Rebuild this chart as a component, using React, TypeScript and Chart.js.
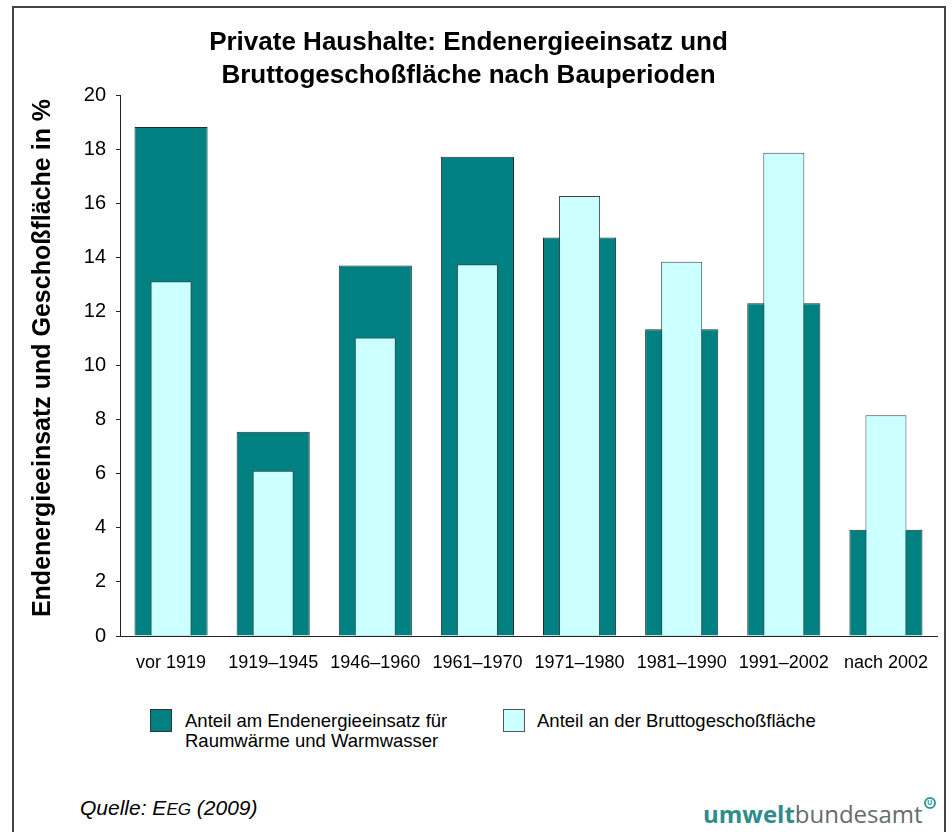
import React, { useEffect, useRef } from "react";
import { Chart, registerables } from "chart.js";

Chart.register(...registerables);

const categories = ["vor 1919", "1919–1945", "1946–1960", "1961–1970", "1971–1980", "1981–1990", "1991–2002", "nach 2002"];
const energyShare = [18.82, 7.55, 13.7, 17.72, 14.73, 11.34, 12.3, 3.93];
const floorShare = [13.12, 6.11, 11.04, 13.74, 16.27, 13.84, 17.87, 8.16];
const yTicks = [0, 2, 4, 6, 8, 10, 12, 14, 16, 18, 20];

const titleLines = ["Private Haushalte: Endenergieeinsatz und", "Bruttogeschoßfläche nach Bauperioden"];
const yTitle = "Endenergieeinsatz und Geschoßfläche in %";
const energyLabel = ["Anteil am Endenergieeinsatz für", "Raumwärme und Warmwasser"];
const floorLabel = "Anteil an der Bruttogeschoßfläche";

const FONT = "'Liberation Sans', Arial, Helvetica, sans-serif";
const DARK = "#008080";
const LIGHT = "#CCFFFF";

const yTitlePlugin = {
  id: "yTitleText",
  afterDraw(chart: any) {
    const ctx = chart.ctx;
    ctx.save();
    ctx.translate(43, 358);
    ctx.rotate(-Math.PI / 2);
    ctx.font = `bold 25px ${FONT}`;
    ctx.fillStyle = "#000";
    ctx.textAlign = "center";
    ctx.textBaseline = "middle";
    ctx.fillText(yTitle, 0, 0);
    ctx.restore();
  },
};

export default function App() {
  const canvasRef = useRef<HTMLCanvasElement | null>(null);

  useEffect(() => {
    if (!canvasRef.current) return;
    const chart = new Chart(canvasRef.current, {
      type: "bar",
      data: {
        labels: categories,
        datasets: [
          {
            label: energyLabel.join(" "),
            data: energyShare,
            backgroundColor: DARK,
            borderColor: "#1f2f2f",
            borderWidth: 1,
            barPercentage: 0.716,
            categoryPercentage: 1,
            grouped: false,
            order: 1,
          },
          {
            label: floorLabel,
            data: floorShare,
            backgroundColor: LIGHT,
            borderColor: "#3a4646",
            borderWidth: 1,
            barPercentage: 0.402,
            categoryPercentage: 1,
            grouped: false,
            order: 0,
          },
        ],
      },
      plugins: [yTitlePlugin],
      options: {
        animation: false,
        responsive: false,
        maintainAspectRatio: false,
        layout: { padding: { left: 0, right: 15, top: 0, bottom: 0 } },
        plugins: {
          legend: { display: false },
          tooltip: { enabled: false },
          title: {
            display: true,
            text: titleLines,
            color: "#000",
            font: { family: FONT, size: 26, weight: "bold", lineHeight: 1.27 },
            padding: { top: 26, bottom: 3 },
          },
        },
        scales: {
          x: {
            afterFit: (s: any) => {
              s.height = 64;
            },
            grid: { display: false, drawTicks: false },
            border: { display: true, color: "#222", width: 1 },
            ticks: {
              color: "#000",
              font: { family: FONT, size: 18 },
              padding: 16,
              maxRotation: 0,
              autoSkip: false,
            },
          },
          y: {
            min: 0,
            max: 20,
            afterFit: (s: any) => {
              s.width = 120;
            },
            afterBuildTicks: (s: any) => {
              s.ticks = yTicks.map((v) => ({ value: v }));
            },
            grid: {
              display: true,
              drawOnChartArea: false,
              drawTicks: true,
              tickLength: 4,
              color: "#222",
            },
            border: { display: true, color: "#222", width: 1 },
            ticks: {
              color: "#000",
              font: { family: FONT, size: 20 },
              padding: 10,
            },
          },
        },
      },
    });
    return () => chart.destroy();
  }, []);

  return (
    <div
      style={{
        position: "absolute",
        left: 0,
        top: 0,
        width: 952,
        height: 832,
        overflow: "hidden",
        background: "#fff",
        fontFamily: FONT,
      }}
    >
      <div
        style={{
          position: "absolute",
          left: 12,
          top: 6,
          width: 934,
          height: 860,
          boxSizing: "border-box",
          border: "2px solid #444",
        }}
      />
      <canvas
        ref={canvasRef}
        width={952}
        height={700}
        style={{ position: "absolute", left: 0, top: 0, width: 952, height: 700 }}
      />
      {/* legend */}
      <div
        style={{
          position: "absolute",
          left: 150,
          top: 709,
          width: 22,
          height: 23,
          boxSizing: "border-box",
          background: DARK,
          border: "1px solid #333",
        }}
      />
      <div
        style={{
          position: "absolute",
          left: 185,
          top: 711,
          fontSize: 18.5,
          lineHeight: "20px",
          color: "#000",
          whiteSpace: "nowrap",
        }}
      >
        {energyLabel[0]}
        <br />
        {energyLabel[1]}
      </div>
      <div
        style={{
          position: "absolute",
          left: 503,
          top: 709,
          width: 22,
          height: 23,
          boxSizing: "border-box",
          background: LIGHT,
          border: "1px solid #555",
        }}
      />
      <div
        style={{
          position: "absolute",
          left: 537,
          top: 711,
          fontSize: 18.5,
          lineHeight: "20px",
          color: "#000",
          whiteSpace: "nowrap",
        }}
      >
        {floorLabel}
      </div>
      {/* source */}
      <div
        style={{
          position: "absolute",
          left: 80,
          top: 797,
          fontSize: 21,
          lineHeight: "21px",
          fontStyle: "italic",
          color: "#000",
          whiteSpace: "nowrap",
        }}
      >
        Quelle: E<span style={{ fontSize: 17 }}>EG</span> (2009)
      </div>
      {/* logo */}
      <div
        style={{
          position: "absolute",
          left: 703,
          top: 797,
          fontSize: 24,
          lineHeight: 1,
          fontFamily: "'Open Sans', 'Noto Sans', sans-serif",
          whiteSpace: "nowrap",
        }}
      >
        <span style={{ color: "#2f8c8c", fontWeight: 700 }}>umwelt</span>
        <span style={{ color: "#666b6d" }}>bundesamt</span>
        <span
          style={{
            display: "inline-block",
            width: 8,
            height: 8,
            borderRadius: "50%",
            border: "2px solid #2f9a9a",
            verticalAlign: "18px",
            marginLeft: 1,
            fontSize: 7,
            lineHeight: "8px",
            textAlign: "center",
            color: "#2f9a9a",
            fontWeight: 700,
          }}
        >
          U
        </span>
      </div>
    </div>
  );
}
